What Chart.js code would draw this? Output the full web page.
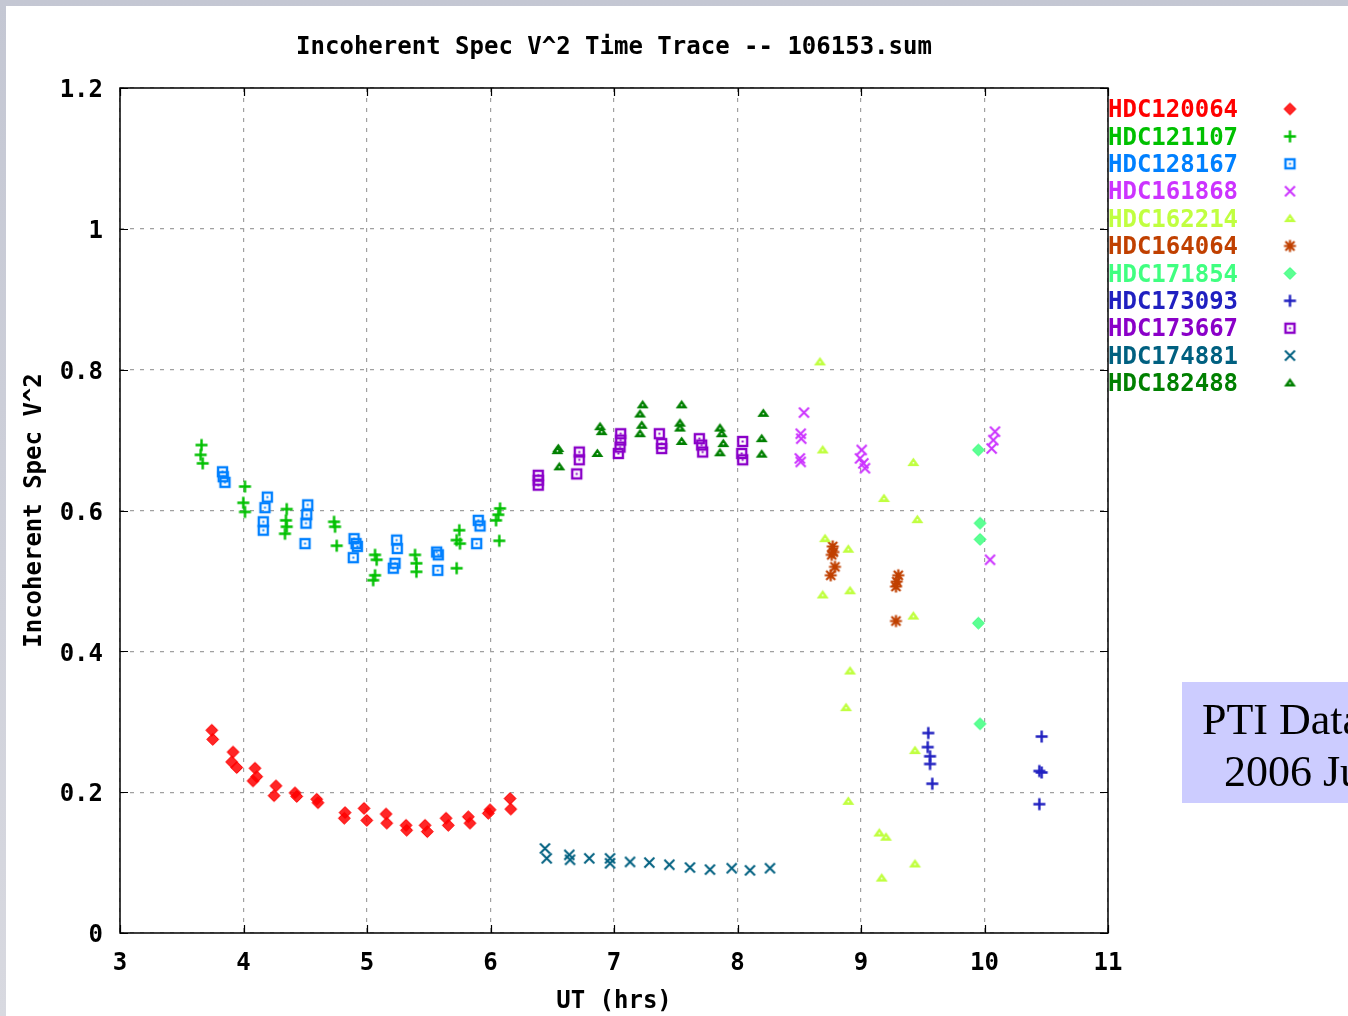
<!DOCTYPE html>
<html>
<head>
<meta charset="utf-8">
<script src="https://cdn.jsdelivr.net/npm/chart.js@4/dist/chart.umd.min.js"></script>
<style>
html,body{margin:0;padding:0;background:#fff;}
#wrap{position:relative;width:1348px;height:1016px;}
canvas{display:block;}
</style>
</head>
<body>
<div id="wrap"><canvas id="c" width="1348" height="1016"></canvas></div>
<script>
// ---- data (UT hours, V^2) ----
const titleText = "Incoherent Spec V^2 Time Trace -- 106153.sum";
const xTitle = "UT (hrs)";
const yTitle = "Incoherent Spec V^2";
const xTicks = [3,4,5,6,7,8,9,10,11];
const yTicks = [0,0.2,0.4,0.6,0.8,1.0,1.2];
const noteLines = ["PTI Data", "2006 Jun"];

const seriesNames = ["HDC120064","HDC121107","HDC128167","HDC161868","HDC162214","HDC164064","HDC171854","HDC173093","HDC173667","HDC174881","HDC182488"];
const seriesColors = ["#ff0000","#00c000","#0080ff","#cc33ff","#c0ff40","#c04000","#40ff80","#2020c0","#8a00c8","#006080","#008000"];
const seriesMarkers = ["diamond","plus","square","x","triangle","star","diamond","plus","square","x","triangle"];

const hdc120064_x = [3.743,3.751,3.915,3.904,3.945,4.093,4.107,4.077,4.263,4.247,4.417,4.431,4.593,4.603,4.822,4.816,4.976,4.998,5.154,5.160,5.316,5.321,5.470,5.488,5.640,5.658,5.820,5.834,5.982,5.996,6.158,6.164];
const hdc120064_y = [0.288,0.275,0.257,0.243,0.235,0.234,0.222,0.216,0.209,0.195,0.199,0.194,0.190,0.185,0.171,0.163,0.177,0.160,0.169,0.156,0.153,0.146,0.153,0.144,0.163,0.153,0.165,0.156,0.170,0.175,0.191,0.176];

const hdc121107_x = [3.660,3.653,3.670,4.012,3.998,4.012,4.350,4.344,4.336,4.350,4.733,4.741,4.755,5.065,5.078,5.065,5.050,5.389,5.400,5.400,5.747,5.726,5.753,5.726,6.077,6.063,6.045,6.071];
const hdc121107_y = [0.693,0.679,0.667,0.634,0.611,0.598,0.602,0.586,0.567,0.577,0.584,0.577,0.550,0.537,0.530,0.508,0.501,0.537,0.525,0.513,0.572,0.558,0.553,0.518,0.603,0.594,0.586,0.557];

const hdc128167_x = [3.830,3.836,3.850,4.193,4.174,4.160,4.160,4.520,4.512,4.506,4.498,4.895,4.911,4.922,4.889,5.240,5.245,5.227,5.213,5.564,5.577,5.573,5.901,5.915,5.888];
const hdc128167_y = [0.655,0.648,0.640,0.619,0.604,0.584,0.572,0.608,0.594,0.582,0.553,0.560,0.553,0.549,0.533,0.558,0.546,0.525,0.518,0.541,0.537,0.515,0.586,0.578,0.553];

const hdc161868_x = [8.538,8.512,8.516,8.505,8.512,9.006,8.992,9.019,9.032,10.085,10.071,10.058,10.045];
const hdc161868_y = [0.739,0.709,0.702,0.674,0.669,0.686,0.674,0.667,0.660,0.712,0.700,0.688,0.530];

const hdc162214_x = [8.668,8.690,9.424,9.186,9.456,8.709,8.897,8.690,8.911,9.424,8.911,8.879,9.437,8.897,9.148,9.202,9.437,9.168];
const hdc162214_y = [0.811,0.686,0.668,0.617,0.587,0.560,0.545,0.480,0.486,0.450,0.372,0.320,0.259,0.187,0.142,0.136,0.098,0.078];

const hdc164064_x = [8.771,8.776,8.763,8.789,8.755,9.302,9.289,9.283,9.283];
const hdc164064_y = [0.549,0.541,0.537,0.520,0.508,0.508,0.499,0.492,0.443];

const hdc171854_x = [9.950,9.964,9.964,9.950,9.964];
const hdc171854_y = [0.686,0.582,0.559,0.440,0.297];

const hdc173093_x = [9.545,9.540,9.559,9.559,9.577,10.463,10.444,10.463,10.444];
const hdc173093_y = [0.284,0.264,0.251,0.240,0.212,0.279,0.230,0.228,0.183];

const hdc173667_x = [6.387,6.387,6.387,6.719,6.719,6.698,7.054,7.054,7.049,7.035,7.367,7.386,7.386,7.691,7.710,7.718,8.042,8.034,8.042];
const hdc173667_y = [0.650,0.643,0.636,0.683,0.672,0.652,0.709,0.700,0.690,0.681,0.709,0.695,0.688,0.702,0.693,0.683,0.698,0.681,0.672];

const hdc174881_x = [6.441,6.455,6.638,6.644,6.800,6.968,6.968,7.130,7.286,7.448,7.615,7.777,7.953,8.101,8.263];
const hdc174881_y = [0.120,0.106,0.111,0.104,0.106,0.106,0.099,0.101,0.100,0.097,0.093,0.090,0.092,0.089,0.092];

const hdc182488_x = [6.549,6.542,6.557,6.887,6.900,6.865,7.232,7.211,7.225,7.211,7.548,7.534,7.534,7.548,7.858,7.872,7.885,7.858,8.209,8.196,8.196];
const hdc182488_y = [0.688,0.685,0.662,0.719,0.712,0.681,0.750,0.737,0.721,0.709,0.750,0.724,0.717,0.698,0.717,0.709,0.695,0.682,0.738,0.702,0.680];

const seriesX = [hdc120064_x,hdc121107_x,hdc128167_x,hdc161868_x,hdc162214_x,hdc164064_x,hdc171854_x,hdc173093_x,hdc173667_x,hdc174881_x,hdc182488_x];
const seriesY = [hdc120064_y,hdc121107_y,hdc128167_y,hdc161868_y,hdc162214_y,hdc164064_y,hdc171854_y,hdc173093_y,hdc173667_y,hdc174881_y,hdc182488_y];

// ---- marker images ----
function makeMarker(kind, color){
  const s = 17, c = 8.5;
  const cv = document.createElement('canvas');
  cv.width = s; cv.height = s;
  const g = cv.getContext('2d');
  g.strokeStyle = color; g.fillStyle = color;
  g.lineCap = 'butt';
  if(kind === 'diamond'){
    g.beginPath(); g.moveTo(c, c-6); g.lineTo(c+6, c); g.lineTo(c, c+6); g.lineTo(c-6, c); g.closePath();
    g.globalAlpha = 0.85; g.fill(); g.globalAlpha = 1;
    g.lineWidth = 1; g.stroke();
  } else if(kind === 'plus'){
    g.lineWidth = 2.4;
    g.beginPath(); g.moveTo(c-6, c); g.lineTo(c+6, c); g.moveTo(c, c-6); g.lineTo(c, c+6); g.stroke();
  } else if(kind === 'square'){
    g.lineWidth = 2.4;
    g.strokeRect(c-4.5, c-4.5, 9, 9);
    g.fillRect(c-1, c-1, 2, 2);
  } else if(kind === 'x'){
    g.lineWidth = 2;
    g.beginPath(); g.moveTo(c-5, c-5); g.lineTo(c+5, c+5); g.moveTo(c+5, c-5); g.lineTo(c-5, c+5); g.stroke();
  } else if(kind === 'triangle'){
    g.beginPath(); g.moveTo(c, c-5); g.lineTo(c+6, c+3.5); g.lineTo(c-6, c+3.5); g.closePath(); g.fill();
    g.fillStyle = '#ffffff'; g.fillRect(c-0.75, c-0.5, 1.5, 1.5);
  } else if(kind === 'star'){
    g.lineWidth = 2.2;
    g.beginPath();
    g.moveTo(c-6, c); g.lineTo(c+6, c); g.moveTo(c, c-6); g.lineTo(c, c+6);
    g.moveTo(c-4.5, c-4.5); g.lineTo(c+4.5, c+4.5); g.moveTo(c+4.5, c-4.5); g.lineTo(c-4.5, c+4.5);
    g.stroke();
  }
  return cv;
}
const markerImgs = seriesNames.map((n,i)=>makeMarker(seriesMarkers[i], seriesColors[i]));

const datasets = seriesNames.map((name,i)=>({
  label: name,
  data: seriesX[i].map((x,k)=>({x:x, y:seriesY[i][k]})),
  pointStyle: markerImgs[i],
  borderColor: seriesColors[i],
  backgroundColor: seriesColors[i],
  showLine: false
}));

const MONO = '"DejaVu Sans Mono", "Liberation Mono", monospace';

// ---- plugins ----
const backgroundPlugin = {
  id: 'bg',
  beforeDraw(chart){
    const ctx = chart.ctx;
    ctx.save();
    const grd = ctx.createLinearGradient(0,0,0,1016);
    grd.addColorStop(0,'#c4c7d3'); grd.addColorStop(1,'#d8d9e0');
    ctx.fillStyle = grd;
    ctx.fillRect(0,0,1348,1016);
    ctx.fillStyle = '#ffffff';
    ctx.fillRect(6,6,1342,1010);
    ctx.restore();
  }
};

const framePlugin = {
  id: 'frame',
  afterDatasetsDraw(chart){
    const ctx = chart.ctx, a = chart.chartArea;
    const xs = chart.scales.x, ys = chart.scales.y;
    ctx.save();
    ctx.strokeStyle = '#000000';
    ctx.lineWidth = 1.5;
    ctx.strokeRect(a.left, a.top, a.right - a.left, a.bottom - a.top);
    ctx.lineWidth = 1.2;
    const tl = 8;
    ctx.beginPath();
    xTicks.forEach(v=>{
      const px = Math.round(xs.getPixelForValue(v)) + 0.5;
      ctx.moveTo(px, a.bottom); ctx.lineTo(px, a.bottom - tl);
      ctx.moveTo(px, a.top); ctx.lineTo(px, a.top + tl);
    });
    yTicks.forEach(v=>{
      const py = Math.round(ys.getPixelForValue(v)) + 0.5;
      ctx.moveTo(a.left, py); ctx.lineTo(a.left + tl, py);
      ctx.moveTo(a.right, py); ctx.lineTo(a.right - tl, py);
    });
    ctx.stroke();

    // title
    ctx.fillStyle = '#000000';
    ctx.font = 'bold 24px ' + MONO;
    ctx.textAlign = 'center'; ctx.textBaseline = 'middle';
    ctx.fillText(titleText, (a.left + a.right)/2, 48);

    // legend
    ctx.textAlign = 'left';
    seriesNames.forEach((n,i)=>{
      const y = 109 + i*27.4;
      ctx.fillStyle = seriesColors[i];
      ctx.fillText(n, 1108, y + 2);
      const img = markerImgs[i];
      ctx.drawImage(img, 1290 - img.width/2, y - img.height/2);
    });

    // note box
    ctx.fillStyle = '#ccccff';
    ctx.fillRect(1182, 682, 166, 121);
    ctx.fillStyle = '#000000';
    ctx.font = '44px "Liberation Serif", "Times New Roman", serif';
    ctx.textBaseline = 'alphabetic';
    ctx.fillText(noteLines[0], 1202, 734);
    ctx.fillText(noteLines[1], 1224, 786);
    ctx.restore();
  }
};

new Chart(document.getElementById('c'), {
  type: 'scatter',
  data: { datasets },
  plugins: [backgroundPlugin, framePlugin],
  options: {
    responsive: false,
    animation: false,
    events: [],
    layout: { padding: { left: 16, top: 88, right: 240, bottom: 0 } },
    plugins: { legend: { display: false }, tooltip: { enabled: false }, title: { display: false } },
    elements: { point: { radius: 6 } },
    scales: {
      x: {
        type: 'linear', min: 3, max: 11,
        afterBuildTicks: s => { s.ticks = xTicks.map(v=>({value:v})); },
        afterFit: s => { s.height = 83; },
        grid: { color: '#a0a0a0', lineWidth: 1.2, drawTicks: false },
        border: { display: false, dash: [4,6] },
        ticks: { padding: 16, color: '#000', font: { family: MONO, size: 24, weight: 'bold' }, maxRotation: 0,
                 callback: v => String(v) },
        title: { display: true, text: xTitle, color: '#000', font: { family: MONO, size: 24, weight: 'bold' }, padding: { top: 0, bottom: 0 } }
      },
      y: {
        type: 'linear', min: 0, max: 1.2,
        afterBuildTicks: s => { s.ticks = yTicks.map(v=>({value:v})); },
        afterFit: s => { s.width = 104; },
        grid: { color: '#a0a0a0', lineWidth: 1.2, drawTicks: false },
        border: { display: false, dash: [4,6] },
        ticks: { padding: 17, labelOffset: 3, color: '#000', font: { family: MONO, size: 24, weight: 'bold' },
                 callback: v => String(+v.toFixed(1)) },
        title: { display: true, text: yTitle, color: '#000', font: { family: MONO, size: 24, weight: 'bold' }, padding: { top: 4, bottom: 0 } }
      }
    }
  }
});
</script>
</body>
</html>
